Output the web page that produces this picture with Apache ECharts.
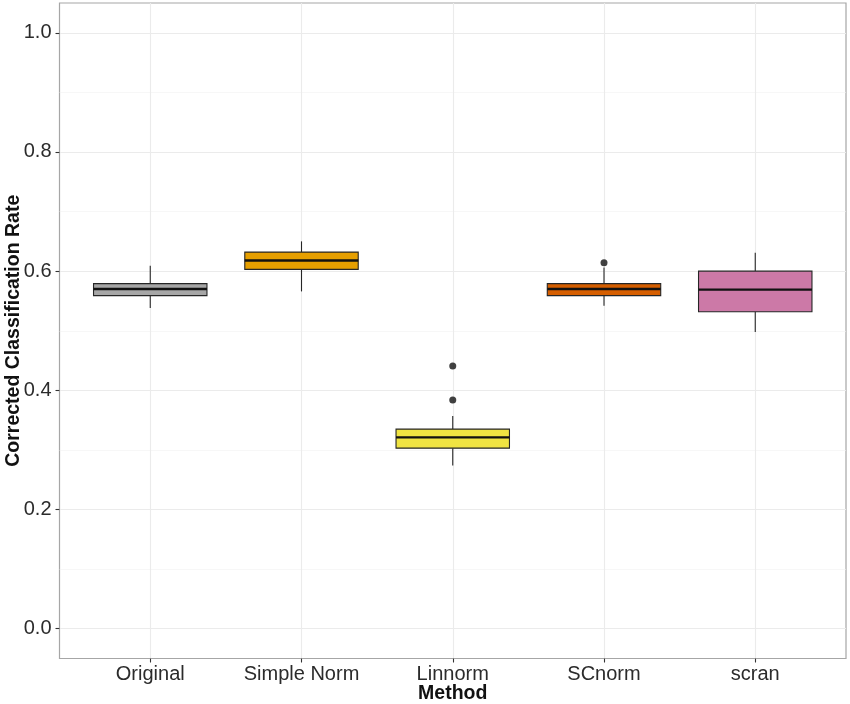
<!DOCTYPE html>
<html>
<head>
<meta charset="utf-8">
<script src="https://cdn.jsdelivr.net/npm/echarts@6/dist/echarts.min.js"></script>
<style>
  html, body { margin: 0; padding: 0; background: #fff; }
  #chart { width: 850px; height: 704px; }
</style>
</head>
<body>
<div id="chart"></div>
<script>
// 数据
const categories = ['Original', 'Simple Norm', 'Linnorm', 'SCnorm', 'scran'];
const whiskerLow = [0.538, 0.566, 0.274, 0.542, 0.498];
const q1 = [0.559, 0.603, 0.303, 0.559, 0.532];
const median = [0.570, 0.618, 0.321, 0.570, 0.569];
const q3 = [0.579, 0.632, 0.335, 0.579, 0.600];
const whiskerHigh = [0.609, 0.650, 0.357, 0.606, 0.631];
// 离群点 [类别序号, 值]
const outliers = [[2, 0.441], [2, 0.384], [3, 0.614]];
const boxColors = ['#a6a6a6', '#e69f00', '#f0e442', '#d55e00', '#cc79a7'];
const yTicks = [0, 0.2, 0.4, 0.6, 0.8, 1.0];
const yMinorTicks = [0.1, 0.3, 0.5, 0.7, 0.9];

const boxWidth = 0.75; // 以类别间距为单位
const boxData = categories.map((c, i) => [i, whiskerLow[i], q1[i], median[i], q3[i], whiskerHigh[i]]);
const catIndex = categories.map((c, i) => i);

const chart = echarts.init(document.getElementById('chart'), null, { renderer: 'canvas' });

// 画一个箱子（ggplot 风格：须线无横帽，中位线加粗）
function renderBox(params, api) {
    const x = api.value(0);
    const lo = api.coord([x, api.value(1)]);
    const b1 = api.coord([x, api.value(2)]);
    const md = api.coord([x, api.value(3)]);
    const b3 = api.coord([x, api.value(4)]);
    const hi = api.coord([x, api.value(5)]);
    const half = api.size([boxWidth, 0])[0] / 2;
    const edge = { stroke: '#262626', lineWidth: 1.1 };
    return {
        type: 'group',
        children: [
            { type: 'line', shape: { x1: lo[0], y1: lo[1], x2: b1[0], y2: b1[1] }, style: edge },
            { type: 'line', shape: { x1: b3[0], y1: b3[1], x2: hi[0], y2: hi[1] }, style: edge },
            {
                type: 'rect',
                shape: { x: b1[0] - half, y: b3[1], width: half * 2, height: b1[1] - b3[1] },
                style: { fill: boxColors[params.dataIndex], stroke: '#262626', lineWidth: 1.1 }
            },
            {
                type: 'line',
                shape: { x1: md[0] - half, y1: md[1], x2: md[0] + half, y2: md[1] },
                style: { stroke: '#111', lineWidth: 2.4 }
            }
        ]
    };
}

const tickText = { color: '#2b2b2b', fontSize: 20, fontFamily: 'Liberation Sans, Arial, sans-serif' };
const titleText = { color: '#111', fontSize: 19.5, fontWeight: 'bold', fontFamily: 'Liberation Sans, Arial, sans-serif' };

const option = {
    backgroundColor: '#ffffff',
    animation: false,
    grid: {
        left: 59.5, right: 4, top: 3, bottom: 45.5,
        containLabel: false,
        outerBoundsMode: 'none',
        show: true, borderColor: '#a6a6a6', borderWidth: 1.2, backgroundColor: '#ffffff'
    },
    xAxis: {
        type: 'value',
        min: -0.6,
        max: 4.6,
        name: 'Method',
        nameLocation: 'middle',
        nameGap: 25,
        nameMoveOverlap: false,
        nameTextStyle: titleText,
        axisLine: { show: false, onZero: false },
        axisTick: { show: true, length: 4, customValues: catIndex, lineStyle: { color: '#333', width: 1.1 } },
        axisLabel: Object.assign({ customValues: catIndex, margin: 6, formatter: v => categories[Math.round(v)] }, tickText),
        splitLine: { show: true, lineStyle: { color: '#ebebeb', width: 1.1 } }
    },
    yAxis: [{
        type: 'value',
        min: -0.05,
        max: 1.05,
        name: 'Corrected Classification Rate',
        nameLocation: 'middle',
        nameGap: 36,
        nameMoveOverlap: false,
        nameTextStyle: titleText,
        axisLine: { show: false, onZero: false },
        axisTick: { show: true, length: 4, customValues: yTicks, lineStyle: { color: '#333', width: 1.1 } },
        axisLabel: Object.assign({ customValues: yTicks, margin: 8, formatter: v => v.toFixed(1) }, tickText),
        splitLine: { show: true, lineStyle: { color: '#ebebeb', width: 1.1 } }
    }, {
        // 次网格线
        type: 'value',
        min: -0.05,
        max: 1.05,
        position: 'left',
        axisLine: { show: false, onZero: false },
        axisTick: { show: false, customValues: yMinorTicks },
        axisLabel: { show: false, customValues: yMinorTicks },
        splitLine: { show: true, lineStyle: { color: '#f2f2f2', width: 0.6 } }
    }],
    series: [{
        type: 'custom',
        renderItem: renderBox,
        encode: { x: 0, y: [1, 2, 3, 4, 5] },
        data: boxData,
        z: 3
    }, {
        type: 'scatter',
        data: outliers,
        symbol: 'circle',
        symbolSize: 7,
        itemStyle: { color: '#111' },
        z: 4
    }]
};
chart.setOption(option);
</script>
</body>
</html>
